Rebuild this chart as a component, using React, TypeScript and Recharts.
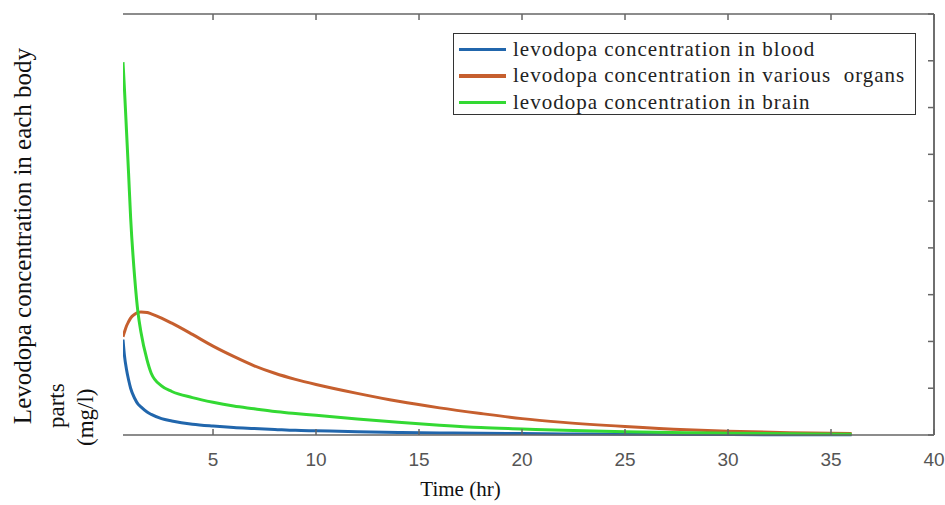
import { LineChart, Line, XAxis, YAxis, Label, ReferenceLine } from 'recharts';

// time (hr)
const times = [0.63, 0.7, 0.8, 0.9, 1.0, 1.2, 1.36, 1.5, 1.8, 2, 2.5, 3, 4, 5, 6, 7, 8, 9, 10, 12, 14, 16, 18, 20, 22, 25, 28, 30, 33, 36];

// concentrations (mg/l)
const blood = [2.04, 1.7, 1.4, 1.18, 1.0, 0.78, 0.66, 0.6, 0.49, 0.44, 0.35, 0.3, 0.23, 0.19, 0.16, 0.14, 0.12, 0.1, 0.09, 0.07, 0.055, 0.045, 0.035, 0.03, 0.024, 0.017, 0.012, 0.009, 0.006, 0.004];
const organs = [2.1, 2.2, 2.33, 2.42, 2.5, 2.58, 2.62, 2.63, 2.62, 2.59, 2.5, 2.39, 2.15, 1.9, 1.68, 1.48, 1.32, 1.19, 1.08, 0.89, 0.72, 0.58, 0.46, 0.35, 0.27, 0.18, 0.11, 0.08, 0.05, 0.03];
const brain = [7.97, 7.4, 6.5, 5.6, 4.65, 3.35, 2.61, 2.2, 1.6, 1.32, 1.05, 0.93, 0.8, 0.7, 0.62, 0.56, 0.5, 0.46, 0.42, 0.34, 0.27, 0.21, 0.16, 0.13, 0.1, 0.07, 0.05, 0.04, 0.025, 0.015];

const xMin = 0.63;
const xMax = 40;
const yMax = 9;
const xTicks = [5, 10, 15, 20, 25, 30, 35, 40];
const yTicks = [0, 1, 2, 3, 4, 5, 6, 7, 8, 9];

const data = times.map((t, i) => ({ t, blood: blood[i], organs: organs[i], brain: brain[i] }));

const series = [
  { key: 'blood', name: 'levodopa concentration in blood', color: '#2166ac' },
  { key: 'organs', name: 'levodopa concentration in various  organs', color: '#c65f2e' },
  { key: 'brain', name: 'levodopa concentration in brain', color: '#33d933' },
];

const W = 945;
const H = 505;
const MARGIN = { top: 14, right: 11, bottom: 40, left: 123 };
const X_AXIS_H = 30;
const PLOT_H = H - MARGIN.top - MARGIN.bottom - X_AXIS_H;

const AXIS = '#666';
const SERIF = '"Liberation Serif", "Times New Roman", serif';
const TICK_MARGIN = 18;
const TICK_LEN = 6;

// bottom label plus inward tick marks on the bottom and top edges (matlab box style)
function BottomTick(props: any) {
  const { x, y, payload } = props;
  const axisY = y - TICK_MARGIN;
  const topY = axisY - PLOT_H;
  return (
    <g>
      <line x1={x} y1={axisY} x2={x} y2={axisY - TICK_LEN} stroke={AXIS} strokeWidth={1.5} />
      <line x1={x} y1={topY} x2={x} y2={topY + TICK_LEN} stroke={AXIS} strokeWidth={1.5} />
      <text x={x} y={y} dy="0.71em" textAnchor="middle" fill="#555" fontSize={19} fontFamily='"Liberation Sans", Arial, sans-serif'>
        {payload.value}
      </text>
    </g>
  );
}

const noLabel = () => '';

export default function App() {
  return (
    <div style={{ position: 'absolute', left: 0, top: 0, width: W, height: H, background: '#fff' }}>
      <LineChart width={W} height={H} data={data} margin={MARGIN}>
        <XAxis
          xAxisId="b"
          dataKey="t"
          type="number"
          domain={[xMin, xMax]}
          allowDataOverflow
          ticks={xTicks}
          height={X_AXIS_H}
          tickSize={0}
          tickMargin={TICK_MARGIN}
          tickLine={false}
          axisLine={{ stroke: AXIS, strokeWidth: 1.5 }}
          tick={<BottomTick />}
        >
          <Label value="Time (hr)" position="bottom" offset={16} dx={-68} fill="#111" fontSize={21} fontFamily={SERIF} />
        </XAxis>
        <YAxis
          yAxisId="r"
          orientation="right"
          type="number"
          domain={[0, yMax]}
          ticks={yTicks}
          width={1}
          mirror
          tickFormatter={noLabel}
          tickSize={TICK_LEN}
          tickLine={{ stroke: AXIS, strokeWidth: 1.5 }}
          axisLine={{ stroke: AXIS, strokeWidth: 1.5 }}
        />
        {/* box edges: top and right */}
        <ReferenceLine xAxisId="b" yAxisId="r" y={yMax} stroke={AXIS} strokeWidth={1.5} ifOverflow="visible" />
        <ReferenceLine xAxisId="b" yAxisId="r" x={xMax} stroke={AXIS} strokeWidth={1.5} ifOverflow="visible" />
        {series.map((s) => (
          <Line
            key={s.key}
            xAxisId="b"
            yAxisId="r"
            type="monotone"
            dataKey={s.key}
            name={s.name}
            stroke={s.color}
            strokeWidth={3}
            dot={false}
            activeDot={false}
            isAnimationActive={false}
          />
        ))}
      </LineChart>

      {/* legend box */}
      <div
        style={{
          position: 'absolute', left: 453, top: 33, width: 463, height: 82,
          border: '1.5px solid #333', background: '#fff', boxSizing: 'border-box',
          padding: '2px 0 0 5px', fontFamily: SERIF, fontSize: 21, color: '#222',
        }}
      >
        {series.map((s) => (
          <div key={s.key} style={{ display: 'flex', alignItems: 'center', height: 26.5 }}>
            <span style={{ display: 'inline-block', width: 47, height: 3.5, background: s.color, marginRight: 7 }} />
            <span style={{ whiteSpace: 'pre', letterSpacing: 1 }}>{s.name}</span>
          </div>
        ))}
      </div>

      {/* y axis title */}
      <svg style={{ position: 'absolute', left: 0, top: 0 }} width={110} height={H}>
        <text transform="translate(31,236) rotate(-90)" textAnchor="middle" fontFamily={SERIF} fontSize={25} fill="#111">
          Levodopa concentration  in each body
        </text>
        <text transform="translate(64,428) rotate(-90)" textAnchor="start" fontFamily={SERIF} fontSize={23} fill="#111">
          parts
        </text>
        <text transform="translate(93,446) rotate(-90)" textAnchor="start" fontFamily={SERIF} fontSize={23} fill="#111">
          (mg/l)
        </text>
      </svg>
    </div>
  );
}
